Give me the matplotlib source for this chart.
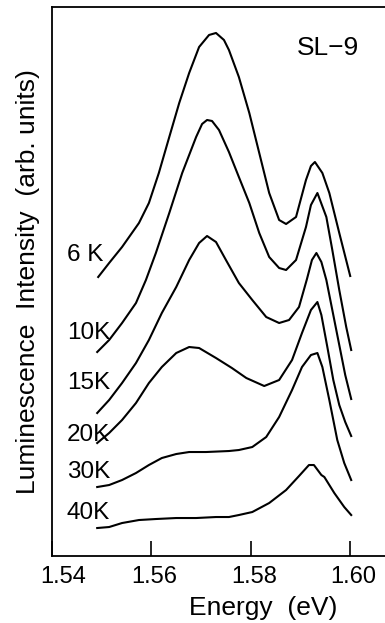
import matplotlib
matplotlib.use("Agg")
import matplotlib.pyplot as plt
import matplotlib.transforms as mtransforms

plt.rcParams['font.family'] = ['Liberation Sans', 'DejaVu Sans']

# photoluminescence spectra of SL-9 (intensity in arb. units)
e_6k = [1.5493, 1.5515, 1.5541, 1.5575, 1.5595, 1.5615, 1.5636, 1.5656, 1.5676,
        1.5696, 1.5716, 1.5730, 1.5746, 1.5756, 1.5776, 1.5797, 1.5817, 1.5837,
        1.5857, 1.5871, 1.5891, 1.5911, 1.5921, 1.5929, 1.5944, 1.5958, 1.5978,
        1.6000]
i_6k = [279, 293, 309, 333, 353, 383, 419, 453, 483,
        509, 521, 523, 516, 506, 479, 443, 403, 363,
        336, 332, 339, 376, 390, 394, 383, 363, 323,
        280]

e_10k = [1.5491, 1.5515, 1.5541, 1.5569, 1.5589, 1.5609, 1.5636, 1.5662, 1.5690,
         1.5702, 1.5712, 1.5722, 1.5736, 1.5756, 1.5776, 1.5797, 1.5817, 1.5837,
         1.5857, 1.5871, 1.5891, 1.5911, 1.5921, 1.5934, 1.5952, 1.5964, 1.5978,
         1.5992, 1.6002]
i_10k = [204, 216, 233, 253, 276, 303, 343, 383, 419,
         432, 436, 435, 426, 404, 379, 353, 323, 299,
         288, 286, 296, 329, 351, 363, 339, 306, 266,
         229, 206]

e_15k = [1.5491, 1.5515, 1.5541, 1.5569, 1.5595, 1.5621, 1.5650, 1.5676, 1.5696,
         1.5712, 1.5730, 1.5750, 1.5776, 1.5803, 1.5831, 1.5857, 1.5877, 1.5897,
         1.5913, 1.5923, 1.5932, 1.5942, 1.5952, 1.5964, 1.5978, 1.5990, 1.6002]
i_15k = [143, 156, 173, 193, 216, 243, 269, 296, 313,
         320, 314, 296, 273, 256, 239, 233, 236, 249,
         277, 296, 303, 294, 276, 246, 211, 181, 157]

e_20k = [1.5491, 1.5515, 1.5541, 1.5569, 1.5595, 1.5621, 1.5650, 1.5676, 1.5696,
         1.5730, 1.5762, 1.5791, 1.5827, 1.5857, 1.5883, 1.5903, 1.5921, 1.5934,
         1.5942, 1.5954, 1.5966, 1.5978, 1.5990, 1.6002]
i_20k = [113, 123, 136, 153, 173, 189, 203, 209, 208,
         198, 188, 178, 170, 176, 196, 223, 246, 254,
         241, 209, 176, 151, 134, 120]

e_30k = [1.5491, 1.5515, 1.5541, 1.5569, 1.5595, 1.5621, 1.5650, 1.5676, 1.5710,
         1.5756, 1.5776, 1.5803, 1.5831, 1.5857, 1.5883, 1.5903, 1.5921, 1.5934,
         1.5944, 1.5958, 1.5974, 1.5988, 1.6002]
i_30k = [69, 71, 76, 83, 91, 98, 102, 104, 104,
         105, 106, 109, 119, 139, 166, 189, 201, 203,
         189, 156, 116, 93, 76]

e_40k = [1.5491, 1.5515, 1.5541, 1.5575, 1.5609, 1.5650, 1.5690, 1.5730, 1.5756,
         1.5776, 1.5803, 1.5837, 1.5871, 1.5897, 1.5917, 1.5927, 1.5942, 1.5948,
         1.5968, 1.5988, 1.6002]
i_40k = [28, 29, 33, 36, 37, 38, 38, 39, 39,
         41, 44, 53, 66, 80, 91, 91, 81, 79,
         63, 49, 41]

labels = ['6 K', '10K', '15K', '20K', '30K', '40K']
label_y = [301, 223, 173, 121, 84, 43]
sample = 'SL\u22129'
xticks = [1.54, 1.56, 1.58, 1.60]

curves = [(e_6k, i_6k), (e_10k, i_10k), (e_15k, i_15k),
          (e_20k, i_20k), (e_30k, i_30k), (e_40k, i_40k)]

fig = plt.figure(figsize=(3.85, 6.23), dpi=100)
ax = fig.add_axes([0.135, 0.1075, 0.865, 0.8813])

for e, i in curves:
    ax.plot(e, i, color='black', lw=1.5, solid_joinstyle='round')

for lab, y in zip(labels, label_y):
    ax.text(1.5430, y, lab, fontsize=17.5, ha='left', va='center')

ax.text(1.5955, 508, sample, fontsize=19, ha='center', va='center')

ax.set_xlim(1.54, 1.607)
ax.set_ylim(0, 549)
ax.set_xticks(xticks)
ax.set_xticklabels([f'{t:.2f}' for t in xticks])
ax.set_yticks([])
ax.tick_params(axis='x', direction='in', length=11, width=1.2,
               labelsize=17, pad=7)
ax.spines['right'].set_visible(False)
for s in ['left', 'bottom', 'top']:
    ax.spines[s].set_linewidth(1.3)

# tick labels sit slightly right of their ticks in the original, 1.54 more so
for k, lbl in enumerate(ax.get_xticklabels()):
    dx = 11 if k == 0 else 3
    lbl.set_transform(lbl.get_transform() +
                      mtransforms.ScaledTranslation(dx / 100, 0, fig.dpi_scale_trans))

ax.set_xlabel('Energy  (eV)', fontsize=19)
ax.xaxis.set_label_coords(0.634, -0.073)
ax.set_ylabel('Luminescence  Intensity  (arb. units)', fontsize=19, va='center')
ax.yaxis.set_label_coords(-0.072, 0.5)

fig.savefig('out.png', dpi=100)
